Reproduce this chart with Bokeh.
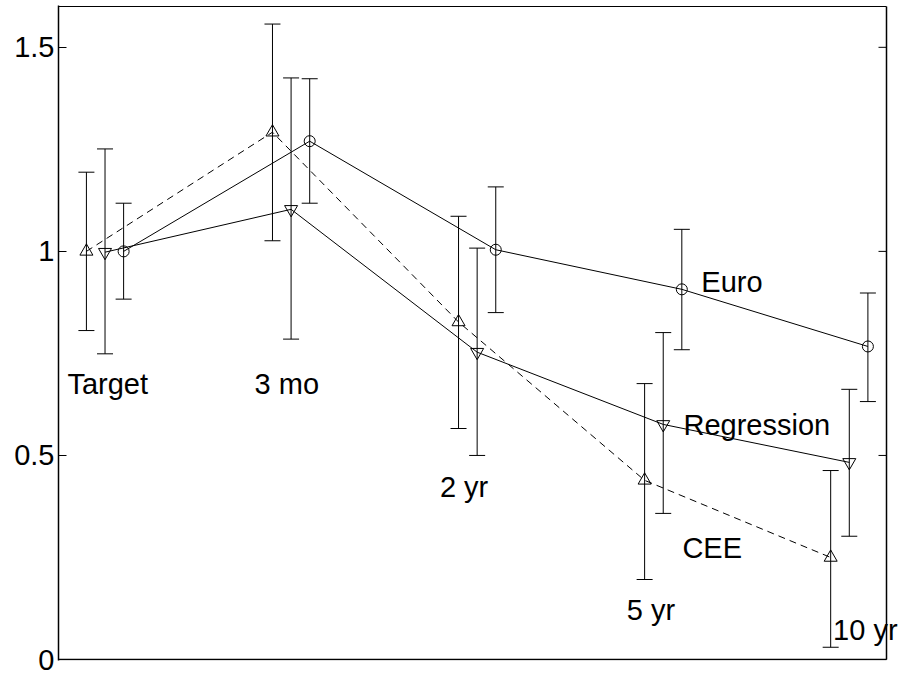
import math
from bokeh.plotting import figure
from bokeh.models import ColumnDataSource, Whisker, TeeHead, Range1d, FixedTicker, Label
from bokeh.embed import file_html
from bokeh.resources import INLINE

# ---- data ----
horizon_x = [1, 2, 3, 4, 5]
horizons = ["Target", "3 mo", "2 yr", "5 yr", "10 yr"]

cee = [1.0, 1.292, 0.827, 0.439, 0.250]
cee_lo = [0.806, 1.026, 0.566, 0.196, 0.030]
cee_hi = [1.194, 1.557, 1.086, 0.676, 0.463]

reg = [0.998, 1.103, 0.753, 0.576, 0.483]
reg_lo = [0.749, 0.785, 0.500, 0.358, 0.302]
reg_hi = [1.251, 1.425, 1.008, 0.801, 0.662]

euro = [1.0, 1.270, 1.004, 0.907, 0.767]
euro_lo = [0.883, 1.118, 0.850, 0.759, 0.632]
euro_hi = [1.118, 1.423, 1.158, 1.054, 0.898]

y_ticks = [0, 0.5, 1, 1.5]
y_tick_labels = ["0", "0.5", "1", "1.5"]

series_names = ["CEE", "Regression", "Euro"]

# ---- layout / style (not data) ----
X0, X1 = 0.75, 5.2          # axes box limits
Y0, Y1 = 0.0, 1.6
BOX_W, BOX_H = 828, 653     # box size in px
PX_X = BOX_W / (X1 - X0)
PX_Y = BOX_H / (Y1 - Y0)
EXTRA_R = 12                # room so that "10 yr" may run over the right border

offsets = [-0.1, 0.0, 0.1]
horizon_label_pos = [(0.798, 0.674), (1.804, 0.674), (2.80, 0.422), (3.804, 0.122), (4.913, 0.073)]
series_label_pos = [(4.103, 0.274), (4.109, 0.574), (4.205, 0.926)]
FONT = "Liberation Sans"

p = figure(frame_width=BOX_W + EXTRA_R, frame_height=BOX_H + 2,
           output_backend="svg", toolbar_location=None,
           x_range=Range1d(X0, X1 + EXTRA_R / PX_X),
           y_range=Range1d(Y0 - 1 / PX_Y, Y1 + 1 / PX_Y),
           min_border_left=58, min_border_top=5, min_border_bottom=16, min_border_right=0)
p.xaxis.visible = False
p.xgrid.visible = False
p.ygrid.visible = False
p.outline_line_color = None
p.background_fill_color = "white"
p.border_fill_color = "white"

yax = p.yaxis[0]
yax.ticker = FixedTicker(ticks=y_ticks)
yax.major_label_overrides = {t: l for t, l in zip(y_ticks, y_tick_labels)}
yax.major_tick_in = 8
yax.major_tick_out = 0
yax.minor_tick_line_color = None
yax.axis_line_width = 1.5
yax.major_label_text_font = FONT
yax.major_label_text_font_size = "29px"
yax.major_label_text_color = "black"
yax.major_label_standoff = 4

# axes box: top, right, bottom edges, plus inward ticks on the right edge
p.segment(x0=[X0], y0=[Y1], x1=[X1], y1=[Y1], line_color="black", line_width=1)
p.segment(x0=[X1, X0], y0=[Y0, Y0], x1=[X1, X1], y1=[Y1, Y0], line_color="black", line_width=1.5)
p.ray(x=[X1] * len(y_ticks), y=y_ticks, length=8, length_units="screen", angle=math.pi,
      line_color="black", line_width=1)

series = [(cee, cee_lo, cee_hi, "triangle", 13, "7 5"),
          (reg, reg_lo, reg_hi, "inverted_triangle", 13, "solid"),
          (euro, euro_lo, euro_hi, "circle", 11, "solid")]

for (vals, lo, hi, marker, msize, dash), off in zip(series, offsets):
    xs = [x + off for x in horizon_x]
    src = ColumnDataSource(dict(x=xs, y=vals, lo=lo, hi=hi))
    p.line("x", "y", source=src, line_color="black", line_width=1, line_dash=dash)
    w = Whisker(base="x", lower="lo", upper="hi", source=src, dimension="height",
                line_color="black", line_width=1,
                upper_head=TeeHead(size=16, line_color="black", line_width=1),
                lower_head=TeeHead(size=16, line_color="black", line_width=1))
    p.add_layout(w)
    p.scatter("x", "y", source=src, marker=marker, size=msize, fill_color=None,
              line_color="black", line_width=1)

for txt, (lx, ly) in list(zip(horizons, horizon_label_pos)) + list(zip(series_names, series_label_pos)):
    p.add_layout(Label(x=lx, y=ly, text=txt, text_font=FONT, text_font_size="29px",
                       text_color="black", text_baseline="alphabetic", text_align="left"))

open("out.html", "w").write(file_html(p, INLINE))
